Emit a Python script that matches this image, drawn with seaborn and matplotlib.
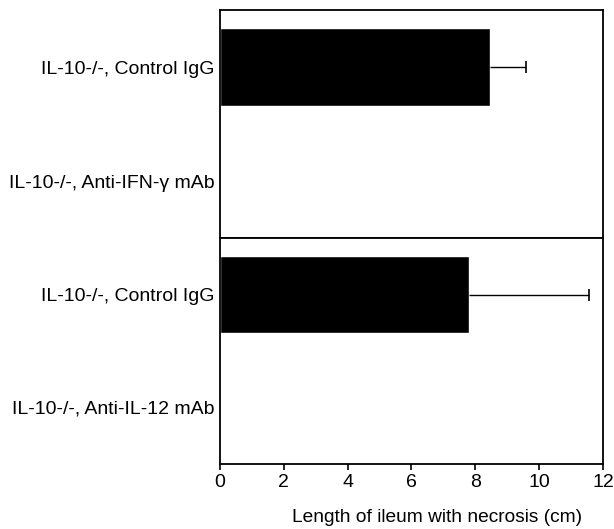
import pandas as pd
import matplotlib
matplotlib.use('Agg')
import matplotlib.pyplot as plt
import seaborn as sns

sns.set_style('white')
plt.rcParams['font.family'] = ['Liberation Sans', 'DejaVu Sans']
plt.rcParams['text.color'] = 'black'
plt.rcParams['xtick.color'] = 'black'
plt.rcParams['ytick.color'] = 'black'
plt.rcParams['axes.labelcolor'] = 'black'

# top panel: anti-IFN-gamma experiment
top_groups = ['IL-10-/-, Control IgG', 'IL-10-/-, Anti-IFN-\u03b3 mAb']
top_means = [8.45, 0.0]
top_err = [1.15, 0.0]

# bottom panel: anti-IL-12 experiment
bot_groups = ['IL-10-/-, Control IgG', 'IL-10-/-, Anti-IL-12 mAb']
bot_means = [7.8, 0.0]
bot_err = [3.75, 0.0]

xticks = [0, 2, 4, 6, 8, 10, 12]

fig = plt.figure(figsize=(6.14, 5.29), dpi=100)
ax1 = fig.add_axes([0.358, 0.55, 0.624, 0.431])
ax2 = fig.add_axes([0.358, 0.123, 0.624, 0.427], sharex=ax1)

for ax, groups, means, errs in [(ax1, top_groups, top_means, top_err),
                                 (ax2, bot_groups, bot_means, bot_err)]:
    df = pd.DataFrame({'group': groups, 'length': means})
    sns.barplot(data=df, x='length', y='group', color='black',
                orient='h', width=0.69, errorbar=None, ax=ax, saturation=1)
    for i, (m, e) in enumerate(zip(means, errs)):
        if e > 0:
            # one-sided error bar, cap only at the outer end
            ax.errorbar(m, i, xerr=[[0], [e]], fmt='none', ecolor='black',
                        elinewidth=1, capsize=0)
            ax.plot(m + e, i, marker='|', color='black', markersize=9,
                    markeredgewidth=1.2)
    ax.set_ylabel('')
    ax.set_xlabel('')
    ax.set_ylim(1.5, -0.5)
    ax.tick_params(axis='y', length=0, labelsize=14, pad=4)
    for s in ax.spines.values():
        s.set_visible(True)
        s.set_color('black')
        s.set_linewidth(1.3)

ax1.set_xlim(0, 12)
ax1.set_xticks(xticks)
ax1.tick_params(axis='x', bottom=False, labelbottom=False)
ax2.tick_params(axis='x', bottom=True, direction='out', length=4, width=1.2,
                labelsize=14)
ax2.set_xlabel('Length of ileum with necrosis (cm)', fontsize=13.8)
ax2.xaxis.set_label_coords(0.567, -0.2)

plt.savefig('out.png', dpi=100)
